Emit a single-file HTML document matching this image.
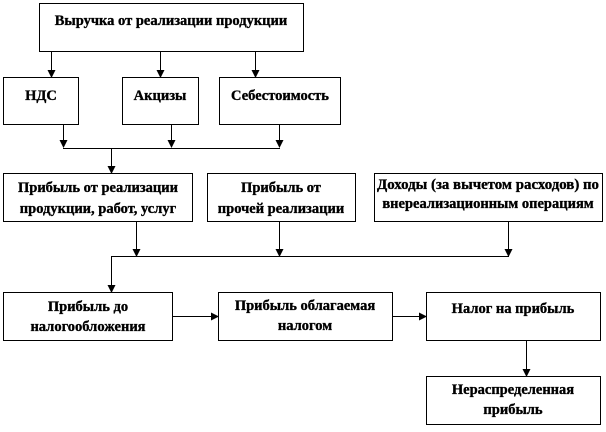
<!DOCTYPE html>
<html><head><meta charset="utf-8"><style>
html,body{margin:0;padding:0;background:#fff}
svg text{font-family:"Liberation Serif","Noto Serif CJK SC",serif;font-weight:bold;font-size:14.5px;fill:#000;stroke:#000;stroke-width:0.35}
</style></head><body>
<svg width="606" height="427" viewBox="0 0 606 427" xmlns="http://www.w3.org/2000/svg">
<defs><marker id="a" markerWidth="8" markerHeight="8" refX="7" refY="4" orient="auto" markerUnits="userSpaceOnUse"><path d="M0,0 L8,4 L0,8z" fill="#000"/></marker></defs>
<g fill="none" stroke="#000" stroke-width="1">
<rect x="39.5" y="3.5" width="264" height="48"/>
<rect x="3.5" y="77.5" width="75" height="47"/>
<rect x="122.5" y="77.5" width="76" height="47"/>
<rect x="219.5" y="77.5" width="121" height="47"/>
<rect x="3.5" y="173.5" width="189" height="48"/>
<rect x="207.5" y="173.5" width="148" height="48"/>
<rect x="374.5" y="173.5" width="228" height="48"/>
<rect x="3.5" y="292.5" width="169" height="48"/>
<rect x="218.5" y="292.5" width="174" height="48"/>
<rect x="426.5" y="292.5" width="174" height="48"/>
<rect x="426.5" y="376.5" width="174" height="48"/>
<g marker-end="url(#a)">
<line x1="51.5" y1="52" x2="51.5" y2="77"/>
<line x1="160.5" y1="52" x2="160.5" y2="77"/>
<line x1="255.5" y1="52" x2="255.5" y2="77"/>
<line x1="63.5" y1="125" x2="63.5" y2="147"/>
<line x1="171.5" y1="125" x2="171.5" y2="147"/>
<line x1="279.5" y1="125" x2="279.5" y2="147"/>
<line x1="111.5" y1="148" x2="111.5" y2="173"/>
<line x1="136.5" y1="222" x2="136.5" y2="256"/>
<line x1="279.5" y1="222" x2="279.5" y2="256"/>
<line x1="508.5" y1="222" x2="508.5" y2="256"/>
<line x1="111.5" y1="256.5" x2="111.5" y2="292"/>
<line x1="173" y1="316.5" x2="218" y2="316.5"/>
<line x1="393" y1="316.5" x2="426" y2="316.5"/>
<line x1="526.5" y1="341" x2="526.5" y2="376"/>
</g>
<line x1="63" y1="148.5" x2="280" y2="148.5"/>
<line x1="111" y1="256.5" x2="509" y2="256.5"/>
</g>
<g text-anchor="middle">
<text x="171" y="25">Выручка  от реализации продукции</text>
<text x="41" y="100">НДС</text>
<text x="160" y="100">Акцизы</text>
<text x="280" y="100">Себестоимость</text>
<text x="98" y="192">Прибыль от реализации</text>
<text x="98" y="213">продукции, работ, услуг</text>
<text x="281" y="192">Прибыль от</text>
<text x="281" y="213">прочей реализации</text>
<text x="488" y="189" textLength="222" lengthAdjust="spacingAndGlyphs">Доходы (за вычетом расходов) по</text>
<text x="488" y="208">внереализационным  операциям</text>
<text x="88" y="311">Прибыль до</text>
<text x="88" y="331">налогообложения</text>
<text x="305" y="310">Прибыль облагаемая</text>
<text x="305" y="330">налогом</text>
<text x="513" y="313">Налог на прибыль</text>
<text x="513" y="394">Нераспределенная</text>
<text x="513" y="414">прибыль</text>
</g>
</svg>
</body></html>
